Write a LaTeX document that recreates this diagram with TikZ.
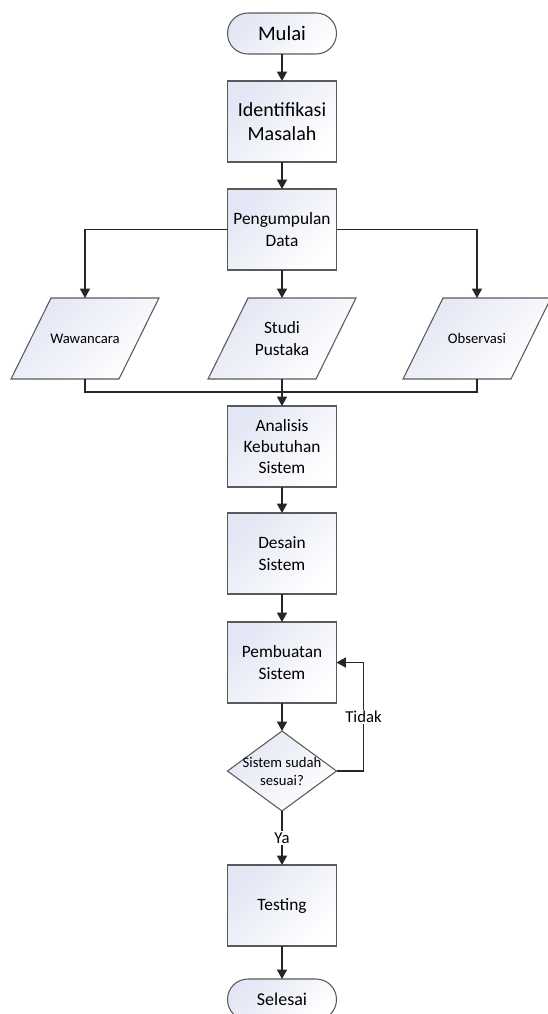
\documentclass[tikz,border=0pt]{standalone}
\usepackage{fontspec}
\setmainfont{Carlito}
\usetikzlibrary{shapes.geometric, positioning, arrows.meta}

\definecolor{garis}{HTML}{5A5A5A}
\definecolor{isi}{HTML}{E3E6F4}

\tikzset{
	proses/.style={rectangle, draw=garis, line width=0.8pt, top color=isi, bottom color=white, shading angle=45,
		minimum width=81.75pt, minimum height=60.75pt, align=center, inner sep=2pt, outer sep=0pt,
		font=\fontsize{13}{16}\selectfont},
	terminal/.style={proses, rounded corners=15.3pt, minimum height=30.75pt},
	data/.style={proses, trapezium, trapezium left angle=63.7, trapezium right angle=116.3, trapezium stretches body,
		inner xsep=0pt, inner ysep=30.375pt, minimum width=111pt, minimum height=60.75pt},
	keputusan/.style={proses, diamond, minimum width=81.75pt, minimum height=60pt, inner sep=0pt},
	ket/.style={fill=white, inner sep=1pt, font=\fontsize{12.5}{15}\selectfont}
}

\begin{document}
\begin{tikzpicture}[x=0.75pt, y=-0.75pt, >={Triangle[length=7pt, width=7.5pt]}, line width=0.9pt, draw=black!85]
	\useasboundingbox (0,0) rectangle (548,1014);

	\node[terminal, font=\fontsize{15.5}{18.6}\selectfont] (s1) at (282,33.5) {Mulai};
	\node[proses, below=20.25pt of s1, font=\fontsize{15}{18.25}\selectfont] (s2) {Identifikasi\\Masalah};
	\node[proses, below=20.25pt of s2] (s3) {Pengumpulan\\Data};
	\node[data, below=21pt of s3,
		label={[font=\fontsize{13}{16}\selectfont, align=center]center:Studi\\Pustaka}] (d2) {};
	\node[data, on grid, left=147.75pt of d2,
		label={[font=\fontsize{11}{13}\selectfont]center:Wawancara}] (d1) {};
	\node[data, on grid, right=146.25pt of d2,
		label={[font=\fontsize{11}{13}\selectfont]center:Observasi}] (d3) {};
	\coordinate[below=9.75pt of d2.south] (gabung);
	\node[proses, below=20.25pt of d2] (s4) {Analisis\\Kebutuhan\\Sistem};
	\node[proses, below=19.5pt of s4] (s5) {Desain\\Sistem};
	\node[proses, below=21pt of s5] (s6) {Pembuatan\\Sistem};
	\node[keputusan, below=21pt of s6,
		label={[font=\fontsize{11}{13.5}\selectfont, align=center]center:Sistem sudah\\sesuai?}] (k1) {};
	\node[proses, below=40.5pt of k1] (s7) {Testing};
	\node[terminal, below=24.75pt of s7, font=\fontsize{13.5}{16}\selectfont] (s8) {Selesai};

	\draw [->]
		(s1) edge (s2)
		(s2) edge (s3)
		(s3) edge (d2)
		(d2) edge (s4)
		(s4) edge (s5)
		(s5) edge (s6)
		(s6) edge (k1)
		(k1) edge node[ket]{Ya} (s7)
		(s7) edge (s8)
		;

	% cabang pengumpulan data
	\draw[->] (s3.west) -| (d1.north);
	\draw[->] (s3.east) -| (d3.north);
	\draw (d1.south) |- (gabung) -| (d3.south);

	% kembali jika belum sesuai
	\draw[->] (k1.east) -- ++(20.25pt,0) |- node[ket, pos=0.25]{Tidak} (s6.east);
\end{tikzpicture}
\end{document}
